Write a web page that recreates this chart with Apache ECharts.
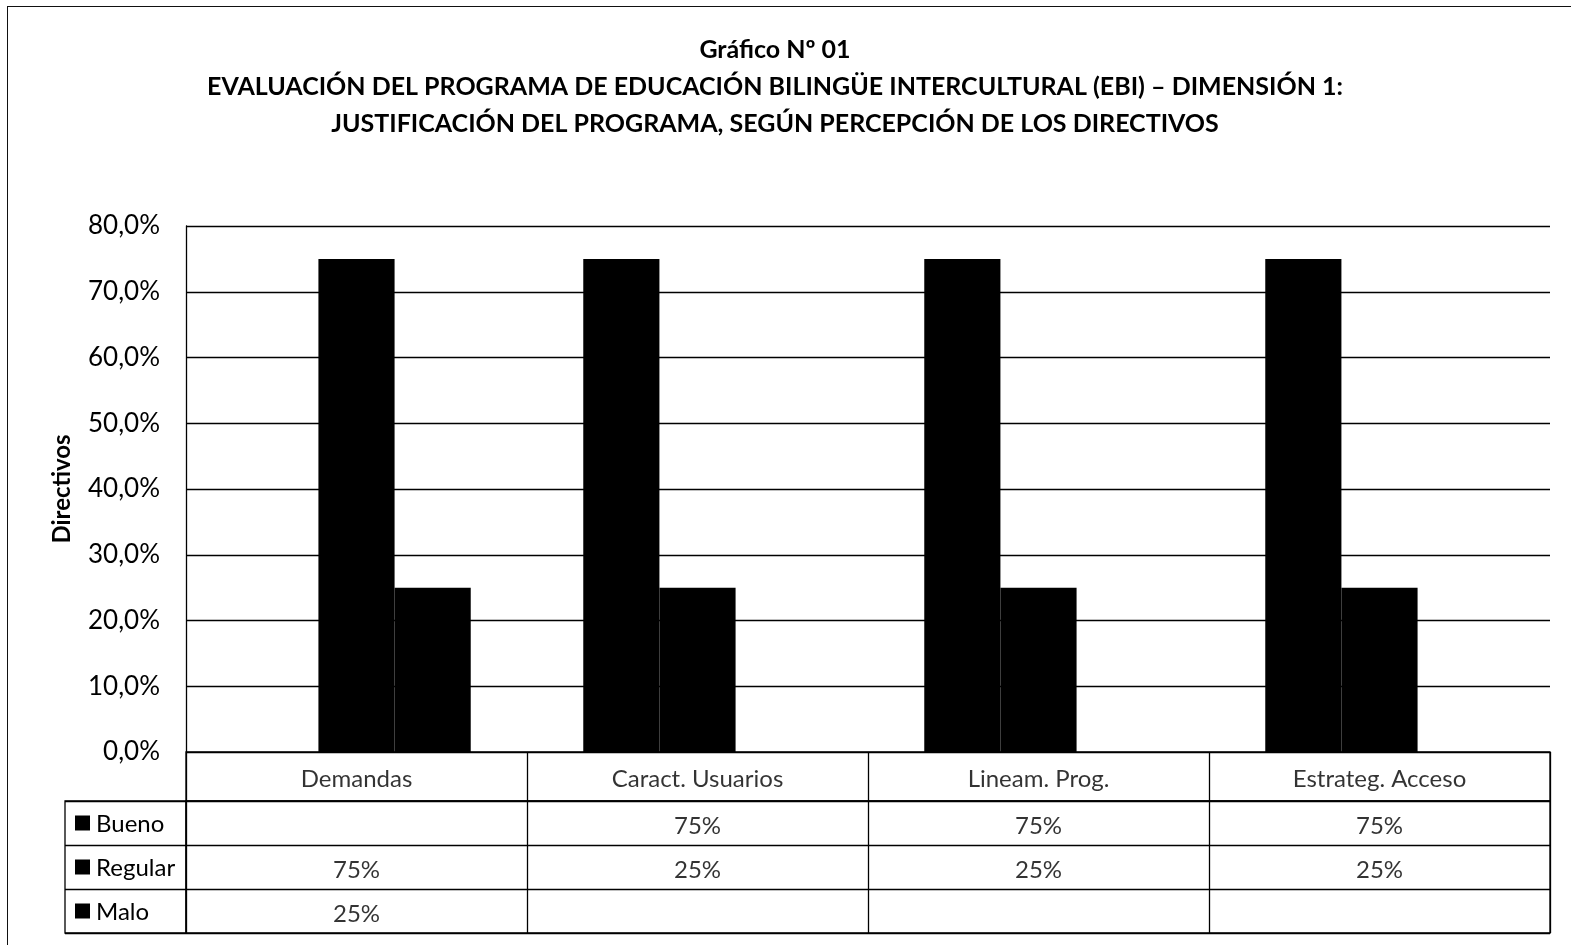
<!DOCTYPE html>
<html lang="es">
<head>
<meta charset="utf-8">
<title>Gráfico Nº 01</title>
<script src="https://cdn.jsdelivr.net/npm/echarts@6/dist/echarts.min.js"></script>
<style>
  html, body { margin: 0; padding: 0; background: #fff; overflow: hidden; }
  #frame { position: absolute; left: 7px; top: 6px; width: 1700px; height: 1100px; border: 1.5px solid #111; box-sizing: border-box; }
  #chart { position: absolute; left: 0; top: 0; width: 1571px; height: 945px; }
</style>
</head>
<body>
<div id="frame"></div>
<div id="chart"></div>
<script>
// Dimension 1 evaluation, percentages per criterion
const categories = ['Demandas', 'Caract. Usuarios', 'Lineam. Prog.', 'Estrateg. Acceso'];
const seriesNames = ['Bueno', 'Regular', 'Malo'];
const bueno   = [null, 75, 75, 75];
const regular = [75, 25, 25, 25];
const malo    = [25, null, null, null];
const yTicks  = [0, 10, 20, 30, 40, 50, 60, 70, 80];

const titleLines = [
  'Gráfico Nº 01',
  'EVALUACIÓN DEL PROGRAMA DE EDUCACIÓN BILINGÜE INTERCULTURAL (EBI) – DIMENSIÓN 1:',
  'JUSTIFICACIÓN DEL PROGRAMA, SEGÚN PERCEPCIÓN DE LOS DIRECTIVOS'
];

const FONT = 'Lato, "Open Sans", sans-serif';
const values = [bueno, regular, malo];

// Header cells (category names) and value cells of the data table
const headerCells = categories.map((c, i) => [i, 0, c]);
const valueCells = [];
values.forEach((arr, r) => {
  arr.forEach((v, i) => {
    if (v !== null) valueCells.push([i, r, v + '%']);
  });
});

const lineStyle = { color: '#000', width: 1.3 };
const hidden = { axisLine: { show: false }, axisTick: { show: false }, axisLabel: { show: false } };
const cellLabel = { show: true, position: 'inside', offset: [0, 3], formatter: p => p.value[2],
  fontSize: 24, color: '#000', fontFamily: FONT };

const chart = echarts.init(document.getElementById('chart'), null, { renderer: 'canvas' });
chart.setOption({
  backgroundColor: 'transparent',
  animation: false,
  textStyle: { fontFamily: FONT, color: '#000' },
  title: {
    text: titleLines.join('\n'),
    left: 770,
    textAlign: 'center',
    top: 26,
    textStyle: { fontFamily: FONT, fontWeight: 'bold', fontSize: 25, lineHeight: 37, color: '#000' }
  },
  grid: [
    // plot
    { left: 186, right: 21, top: 226, height: 526, show: false },
    // table header row
    { left: 186, right: 21, top: 752, height: 49, show: true, borderColor: '#000', borderWidth: 1.3 },
    // table value rows
    { left: 186, right: 21, top: 801, height: 132, show: true, borderColor: '#000', borderWidth: 1.3 },
    // legend column of the table
    { left: 65, width: 121, top: 801, height: 132, show: true, borderColor: '#000', borderWidth: 1.3 }
  ],
  xAxis: [
    { type: 'category', gridIndex: 0, data: categories, ...hidden, splitLine: { show: false } },
    { type: 'category', gridIndex: 1, data: categories, ...hidden, splitLine: { show: true, lineStyle: lineStyle } },
    { type: 'category', gridIndex: 2, data: categories, ...hidden, splitLine: { show: true, lineStyle: lineStyle } },
    { type: 'value', gridIndex: 3, min: 0, max: 1, show: false }
  ],
  yAxis: [
    { type: 'value', gridIndex: 0, min: yTicks[0], max: yTicks[yTicks.length - 1], interval: 10,
      axisLine: { show: true, lineStyle: lineStyle }, axisTick: { show: false },
      axisLabel: { margin: 26, fontSize: 26, color: '#000', fontFamily: FONT,
        formatter: v => v.toFixed(1).replace('.', ',') + '%' },
      splitLine: { show: true, lineStyle: lineStyle },
      name: 'Directivos', nameLocation: 'middle', nameGap: 112, nameRotate: 90,
      nameTextStyle: { fontFamily: FONT, fontWeight: 'bold', fontSize: 24, color: '#000' } },
    { type: 'category', gridIndex: 1, data: [''], ...hidden, splitLine: { show: false } },
    { type: 'category', gridIndex: 2, data: seriesNames, inverse: true, ...hidden,
      splitLine: { show: true, lineStyle: lineStyle } },
    { type: 'category', gridIndex: 3, data: seriesNames, inverse: true,
      axisLine: { show: false }, axisTick: { show: false },
      splitLine: { show: true, lineStyle: lineStyle },
      axisLabel: { inside: true, margin: 10, fontFamily: FONT,
        formatter: v => '{sq|}{t|' + v + '}',
        rich: {
          sq: { backgroundColor: '#000', width: 15, height: 15, verticalAlign: 'middle' },
          t: { fontSize: 24, color: '#000', fontFamily: FONT, padding: [3, 0, 0, 6] }
        } } }
  ],
  series: [
    ...seriesNames.map((name, k) => ({
      name: name, type: 'bar', xAxisIndex: 0, yAxisIndex: 0,
      data: values[k], barGap: '0%', barCategoryGap: '33%',
      itemStyle: { color: '#000' }, silent: true
    })),
    { name: 'encabezado', type: 'scatter', xAxisIndex: 1, yAxisIndex: 1,
      data: headerCells, symbolSize: 0, silent: true, label: cellLabel },
    { name: 'valores', type: 'scatter', xAxisIndex: 2, yAxisIndex: 2,
      data: valueCells, symbolSize: 0, silent: true, label: cellLabel }
  ]
});
</script>
</body>
</html>
